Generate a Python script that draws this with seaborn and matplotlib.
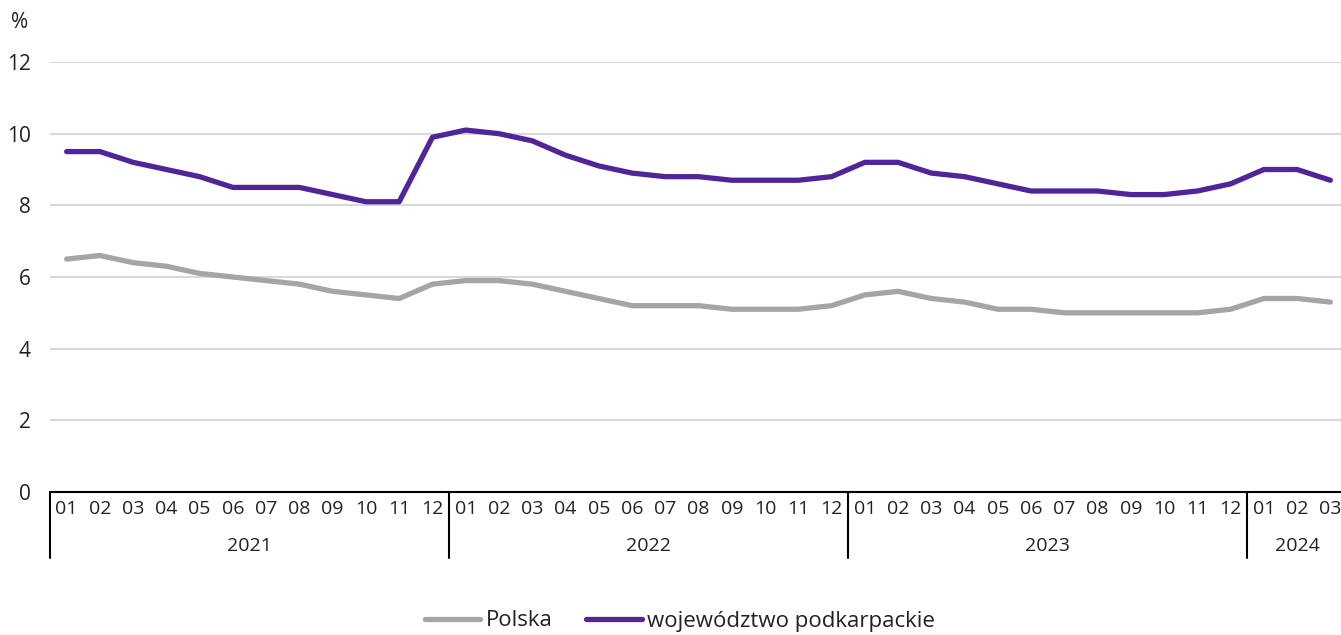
import matplotlib
matplotlib.use("Agg")
import matplotlib.pyplot as plt
import seaborn as sns
import pandas as pd

# data (%)
month_labels = ["01", "02", "03", "04", "05", "06", "07", "08", "09", "10", "11", "12"] * 3 + ["01", "02", "03"]
years = ["2021", "2022", "2023", "2024"]
months_per_year = [12, 12, 12, 3]

polska = [6.5, 6.6, 6.4, 6.3, 6.1, 6.0, 5.9, 5.8, 5.6, 5.5, 5.4, 5.8,
          5.9, 5.9, 5.8, 5.6, 5.4, 5.2, 5.2, 5.2, 5.1, 5.1, 5.1, 5.2,
          5.5, 5.6, 5.4, 5.3, 5.1, 5.1, 5.0, 5.0, 5.0, 5.0, 5.0, 5.1,
          5.4, 5.4, 5.3]
podkarpackie = [9.5, 9.5, 9.2, 9.0, 8.8, 8.5, 8.5, 8.5, 8.3, 8.1, 8.1, 9.9,
                10.1, 10.0, 9.8, 9.4, 9.1, 8.9, 8.8, 8.8, 8.7, 8.7, 8.7, 8.8,
                9.2, 9.2, 8.9, 8.8, 8.6, 8.4, 8.4, 8.4, 8.3, 8.3, 8.4, 8.6,
                9.0, 9.0, 8.7]

series_names = ["Polska", "województwo podkarpackie"]
colors = {"Polska": "#A5A5A5", "województwo podkarpackie": "#51259A"}

n = len(month_labels)
df = pd.DataFrame({
    "idx": list(range(n)) * 2,
    "value": polska + podkarpackie,
    "series": [series_names[0]] * n + [series_names[1]] * n,
})

sns.set_style("white")
plt.rcParams["font.family"] = ["Open Sans", "DejaVu Sans"]
plt.rcParams["text.color"] = "#222222"

W, H = 1341, 635
fig = plt.figure(figsize=(W / 100, H / 100), dpi=100)
ax = fig.add_axes([50 / W, 1 - 492 / H, 1297 / W, 430 / H])

sns.lineplot(data=df, x="idx", y="value", hue="series", palette=colors,
             linewidth=3.8, ax=ax, sort=False)
for line in ax.get_lines():
    line.set_solid_joinstyle("round")
    line.set_solid_capstyle("round")

ax.set_xlim(-0.5, n - 0.5)
ax.set_ylim(0, 12)
ax.set_yticks(range(0, 13, 2))
ax.yaxis.grid(True, color="#D9D9D9", linewidth=1.5)
ax.set_axisbelow(True)
ax.set_xlabel("")
ax.set_ylabel("")

for s in ["top", "right", "left"]:
    ax.spines[s].set_visible(False)
ax.spines["bottom"].set_color("black")
ax.spines["bottom"].set_linewidth(1.5)

ax.set_xticks(range(n))
ax.set_xticklabels(month_labels)
ax.tick_params(axis="x", length=0, pad=6, labelsize=14, labelcolor="#222222")
ax.tick_params(axis="y", length=0, pad=14, labelsize=15, labelcolor="#222222")

# year separators and year labels
tr = ax.get_xaxis_transform()
sep_bottom = -(558 - 492) / 430
start = 0
for yr, cnt in zip(years, months_per_year):
    ax.plot([start - 0.5, start - 0.5], [0, sep_bottom], color="black", lw=1.5,
            transform=tr, clip_on=False)
    ax.text(start + (cnt - 1) / 2, -(546 - 492) / 430, yr, transform=tr,
            ha="center", va="center", fontsize=14)
    start += cnt

fig.text(20 / W, 1 - 22 / H, "%", ha="center", va="center", fontsize=15)

handles, labels = ax.get_legend_handles_labels()
ax.get_legend().remove()
fig.legend(handles, labels, loc="center", bbox_to_anchor=(680 / W, 1 - 621 / H),
           ncol=2, frameon=False, fontsize=16, handlelength=2.5,
           handletextpad=0.25, columnspacing=1.5)

fig.savefig("out.png", dpi=100)
